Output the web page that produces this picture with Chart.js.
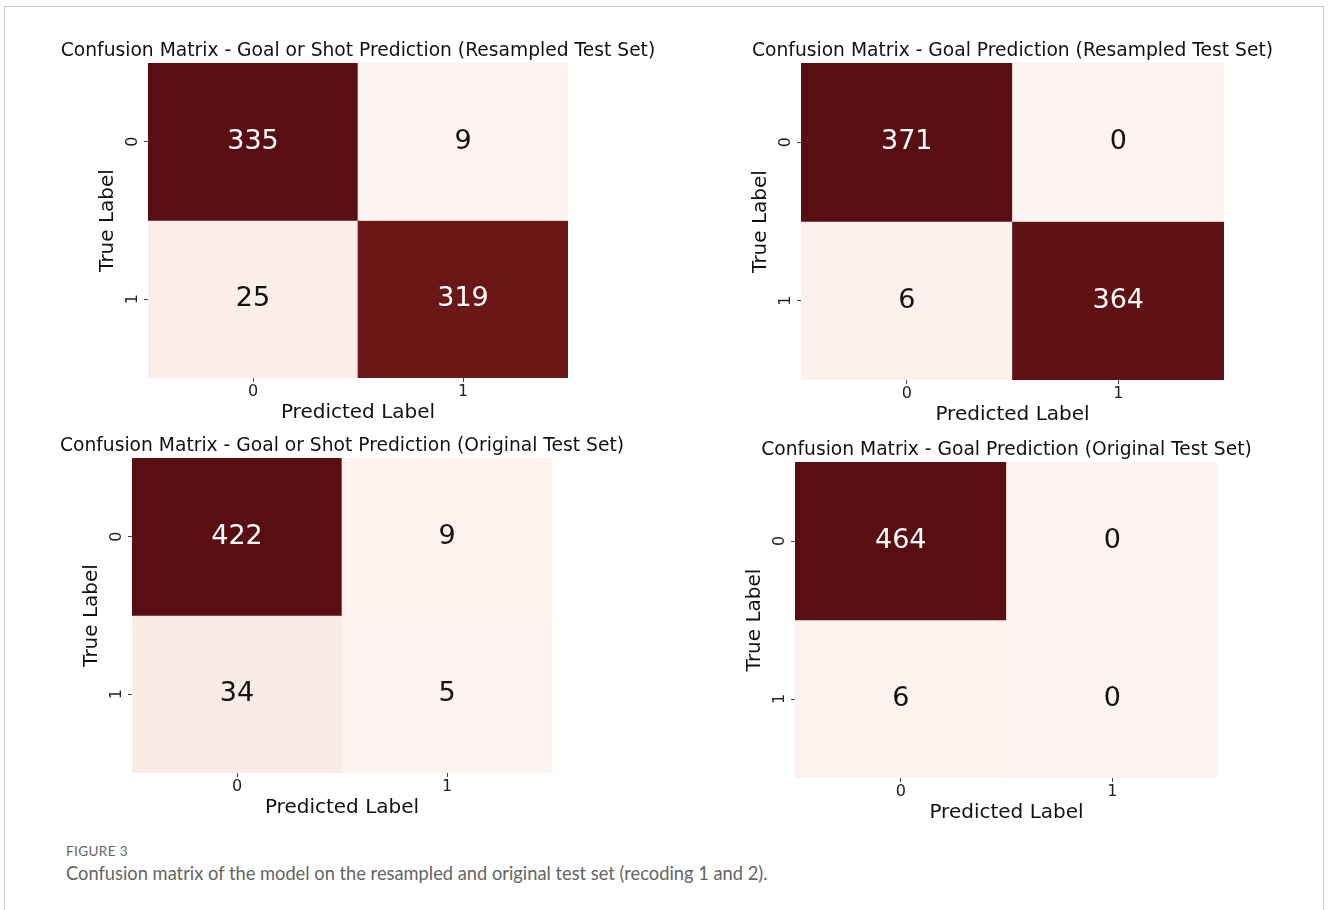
<!DOCTYPE html>
<html>
<head>
<meta charset="utf-8">
<title>Confusion matrices</title>
<script src="https://cdn.jsdelivr.net/npm/chart.js@4.4.1/dist/chart.umd.min.js"></script>
<style>
  html, body { margin: 0; padding: 0; background: #fff; }
  body { width: 1328px; height: 910px; position: relative; overflow: hidden; }
  .frame { position: absolute; left: 4px; top: 6px; width: 1318px; height: 940px; border: 1px solid #c9c9c9; }
  canvas { position: absolute; }
  .fig-no { position: absolute; left: 66px; top: 843px; font: 13.5px Lato, sans-serif; letter-spacing: 0.4px; color: #666; }
  .fig-cap { position: absolute; left: 66px; top: 862px; font: 18.3px Lato, sans-serif; color: #646464; }
</style>
</head>
<body>
<div class="frame"></div>
<div id="panels"></div>
<div class="fig-no">FIGURE 3</div>
<div class="fig-cap">Confusion matrix of the model on the resampled and original test set (recoding 1 and 2).</div>

<script>
/* class labels and per-panel counts (rows = true, cols = predicted) */
const classLabels = ['0', '1'];
const panelTitles = [
  'Confusion Matrix - Goal or Shot Prediction (Resampled Test Set)',
  'Confusion Matrix - Goal Prediction (Resampled Test Set)',
  'Confusion Matrix - Goal or Shot Prediction (Original Test Set)',
  'Confusion Matrix - Goal Prediction (Original Test Set)',
];
const cmResampledShot = [[335, 9], [25, 319]];
const cmResampledGoal = [[371, 0], [6, 364]];
const cmOriginalShot  = [[422, 9], [34, 5]];
const cmOriginalGoal  = [[464, 0], [6, 0]];
const matrices = [cmResampledShot, cmResampledGoal, cmOriginalShot, cmOriginalGoal];

/* layout: pixel box of each heatmap's cell area */
const AREAS = [
  { l: 148, r: 568,  t: 63,  b: 376 },
  { l: 801, r: 1224, t: 63,  b: 378 },
  { l: 132, r: 552,  t: 458, b: 771 },
  { l: 795, r: 1218, t: 462, b: 776 },
];
const FONT = "'DejaVu Sans', sans-serif";
const TITLE_SIZE = 18.7, LABEL_SIZE = 20, TICK_SIZE = 16, ANNOT_SIZE = 27;
const TICK_LEN = 4;
const SIDE = 100, TOP = 45, BOTTOM = 60;

/* Reds-like ramp, light pink -> dark maroon */
const RAMP = [
  [0.00, [253, 243, 240]],
  [0.08, [249, 234, 226]],
  [0.50, [190, 60, 50]],
  [0.95, [107, 23, 22]],
  [1.00, [89, 14, 18]],
];
function rampColor(t) {
  t = Math.max(0, Math.min(1, t));
  for (let i = 1; i < RAMP.length; i++) {
    const [t1, c1] = RAMP[i];
    if (t <= t1) {
      const [t0, c0] = RAMP[i - 1];
      const f = (t - t0) / (t1 - t0);
      const c = c0.map((v, k) => Math.round(v + (c1[k] - v) * f));
      return `rgb(${c[0]},${c[1]},${c[2]})`;
    }
  }
  return 'rgb(89,14,18)';
}

/* cell counts + rotated y tick labels */
const cellText = {
  id: 'cellText',
  afterDatasetsDraw(chart, args, opts) {
    const { ctx, scales: { x, y }, chartArea } = chart;
    const m = opts.matrix;
    ctx.save();
    ctx.textAlign = 'center';
    ctx.textBaseline = 'middle';
    ctx.font = `${ANNOT_SIZE}px ${FONT}`;
    m.forEach((row, r) => row.forEach((v, c) => {
      const t = (v - opts.lo) / ((opts.hi - opts.lo) || 1);
      ctx.fillStyle = t > 0.5 ? '#ffffff' : '#111111';
      ctx.fillText(String(v), x.getPixelForValue(c), y.getPixelForValue(r + 0.5));
    }));
    ctx.font = `${TICK_SIZE}px ${FONT}`;
    ctx.fillStyle = '#222';
    y.ticks.forEach((tk, i) => {
      ctx.save();
      ctx.translate(chartArea.left - 15, y.getPixelForValue(tk.value));
      ctx.rotate(-Math.PI / 2);
      ctx.fillText(tk.label ?? classLabels[i], 0, 0);
      ctx.restore();
    });
    ctx.restore();
  }
};

function renderMatrix(idx) {
  const m = matrices[idx], a = AREAS[idx];
  const flat = m.flat();
  const lo = Math.min(...flat), hi = Math.max(...flat);

  const w = (a.r - a.l) + 2 * SIDE, h = (a.b - a.t) + TOP + BOTTOM;
  const canvas = document.createElement('canvas');
  canvas.width = w; canvas.height = h;
  canvas.style.width = w + 'px'; canvas.style.height = h + 'px';
  canvas.style.left = (a.l - SIDE) + 'px';
  canvas.style.top = (a.t - TOP) + 'px';
  document.getElementById('panels').appendChild(canvas);

  const titleH = TITLE_SIZE * 1.2 + 1;
  const xAxisH = TICK_LEN + 0 + TICK_SIZE * 1.2 + LABEL_SIZE * 1.2;
  // left axis: tick + title (24px line) + padding = SIDE
  const yTitleGap = 24, yTitleOuter = SIDE - TICK_LEN - LABEL_SIZE * 1.2 - yTitleGap;

  const datasets = m.map((row, r) => ({
    data: row.map(() => [r, r + 1]),
    backgroundColor: row.map(v => rampColor((v - lo) / ((hi - lo) || 1))),
    borderWidth: 0,
    borderSkipped: false,
    barPercentage: 1,
    categoryPercentage: 1,
    grouped: false,
  }));

  return new Chart(canvas, {
    type: 'bar',
    data: { labels: classLabels, datasets },
    plugins: [cellText],
    options: {
      responsive: false, animation: false, devicePixelRatio: 1,
      layout: { padding: { left: 0, right: 0, top: TOP - titleH, bottom: BOTTOM - xAxisH - 2 } },
      scales: {
        x: {
          type: 'category',
          border: { display: false },
          grid: { display: true, offset: false, drawOnChartArea: false, drawTicks: true, tickLength: TICK_LEN, color: '#444' },
          ticks: { color: '#222', padding: 0, font: { family: FONT, size: TICK_SIZE } },
          title: { display: true, text: 'Predicted Label', color: '#111', padding: { top: 0, bottom: 0 },
                   font: { family: FONT, size: LABEL_SIZE } },
        },
        y: {
          type: 'linear', min: 0, max: 2, reverse: true,
          afterBuildTicks: axis => { axis.ticks = classLabels.map((_, i) => ({ value: i + 0.5 })); },
          border: { display: false },
          grid: { display: true, drawOnChartArea: false, drawTicks: true, tickLength: TICK_LEN, color: '#444' },
          ticks: { display: false, callback: (v, i) => classLabels[i] },
          title: { display: true, text: 'True Label', color: '#111', padding: { top: yTitleOuter, bottom: yTitleGap },
                   font: { family: FONT, size: LABEL_SIZE } },
        },
        // empty right-hand axis that balances the left one so the title centres on the cells
        yPad: {
          type: 'linear', position: 'right', display: true,
          border: { display: false }, grid: { display: false }, ticks: { display: false },
          afterFit: s => { s.width = SIDE; },
        },
      },
      plugins: {
        legend: { display: false },
        tooltip: { enabled: false },
        title: { display: true, text: panelTitles[idx], color: '#111', padding: { top: 0, bottom: 1 },
                 font: { family: FONT, size: TITLE_SIZE, weight: 'normal' } },
        cellText: { matrix: m, lo, hi },
      },
    },
  });
}

matrices.forEach((_, i) => renderMatrix(i));
</script>
</body>
</html>
